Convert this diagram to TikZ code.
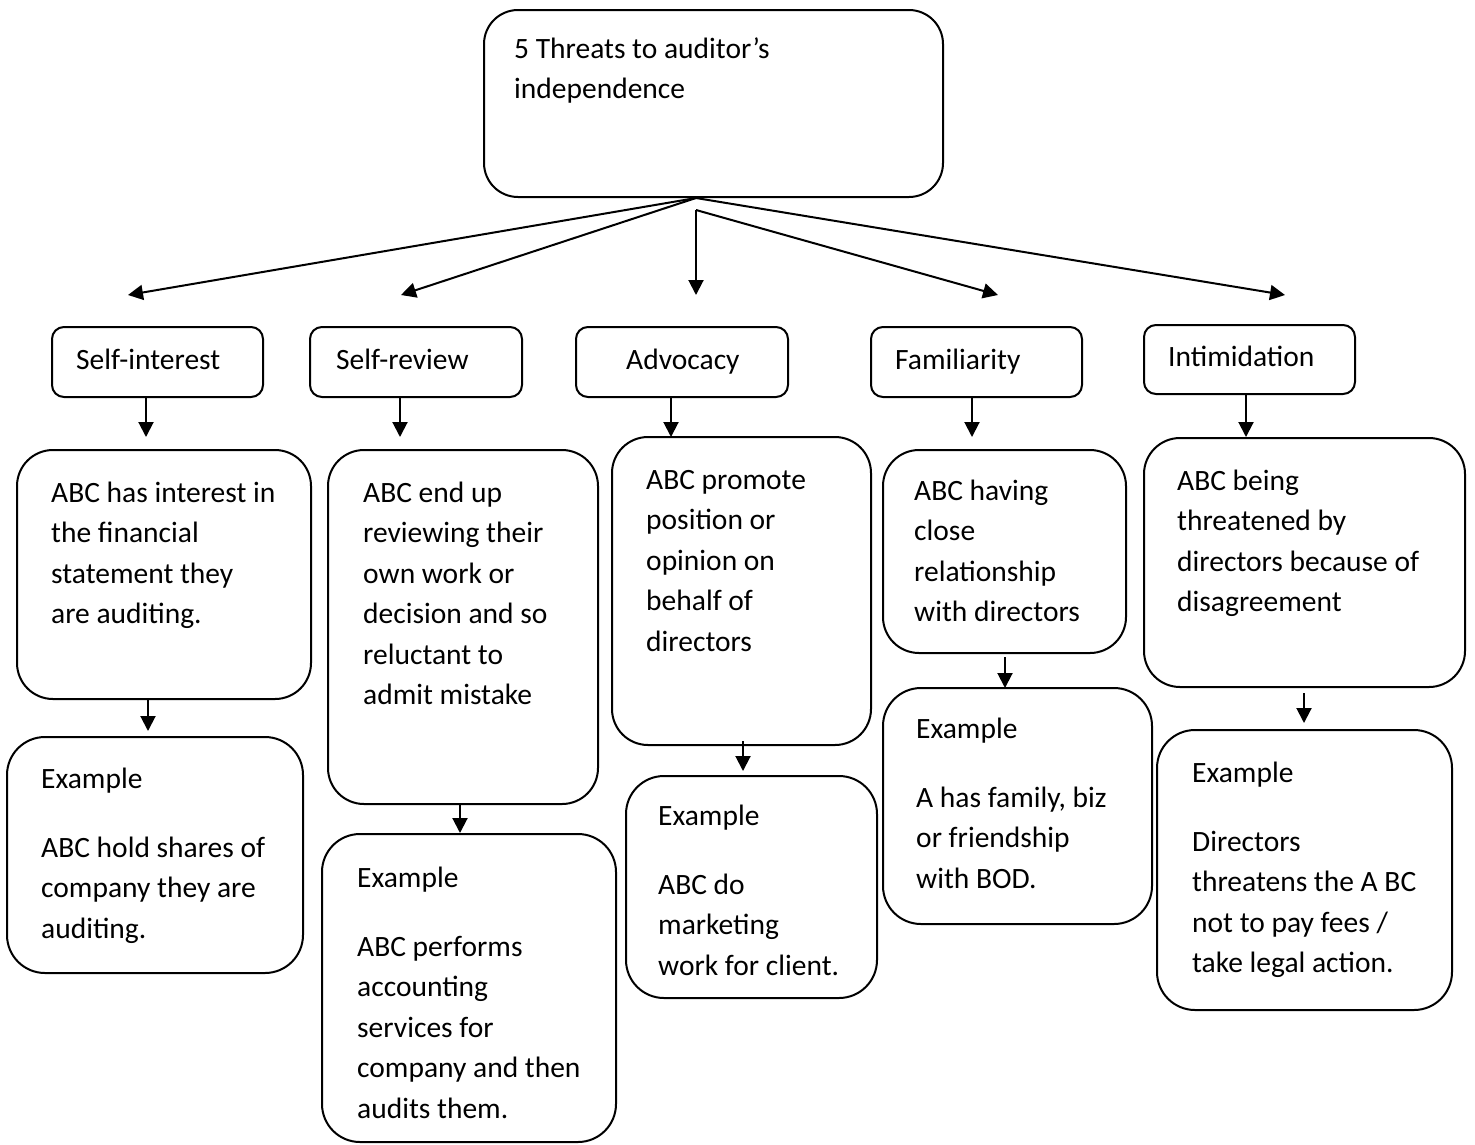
\documentclass[tikz,border=0pt]{standalone}
\usepackage{fontspec}
\setmainfont{Carlito}
\usetikzlibrary{arrows.meta,fit}
\begin{document}
\begin{tikzpicture}[x=1pt,y=-1pt,
  box/.style={draw, line width=2pt, inner sep=0pt, rounded corners=#1},
  box/.default=36pt,
  txt/.style={anchor=base west, inner sep=0pt, font=\fontsize{29.5}{40.5}\selectfont},
  arr/.style={line width=2pt, -{Triangle[width=15pt,length=15pt]}}]
\useasboundingbox (0,0) rectangle (1475,1144);
\newcommand\lns[1]{\parbox[t]{400pt}{#1}}
% root
\node[box=34pt, fit={(484,10) (943,197)}] (root) {};
\node[txt] (troot) at (514,58) {\lns{5 Threats to auditor’s\\independence}};
\coordinate (o1) at (696,198);
\coordinate (o2) at (696,210);
\coordinate (a1) at (128,295);
\coordinate (a2) at (401,295);
\coordinate (a3) at (696,295);
\coordinate (a4) at (998,295);
\coordinate (a5) at (1285,295);
\draw[arr] (o1) -- (a1);
\draw[arr] (o1) -- (a2);
\draw[arr] (o2) -- (a3);
\draw[arr] (o2) -- (a4);
\draw[arr] (o1) -- (a5);
% level 1
\node[box=12pt, fit={(52,327) (263,397)}] (si) {};
\node[box=12pt, fit={(310,327) (522,397)}] (sr) {};
\node[box=12pt, fit={(576,327) (788,397)}] (ad) {};
\node[box=12pt, fit={(871,327) (1082,397)}] (fa) {};
\node[box=12pt, fit={(1144,325) (1355,394)}] (in) {};
\node[txt] (tsi) at (76,369) {Self-interest};
\node[txt] (tsr) at (336,369) {Self-review};
\node[txt] (tad) at (626,369) {Advocacy};
\node[txt] (tfa) at (895,369) {Familiarity};
\node[txt] (tin) at (1168,366) {Intimidation};
\coordinate (c1) at (146,437);
\coordinate (c2) at (400,437);
\coordinate (c3) at (671,437);
\coordinate (c4) at (972,437);
\coordinate (c5) at (1246,437);
\draw[arr] (si.south -| c1) -- (c1);
\draw[arr] (sr.south -| c2) -- (c2);
\draw[arr] (ad.south -| c3) -- (c3);
\draw[arr] (fa.south -| c4) -- (c4);
\draw[arr] (in.south -| c5) -- (c5);
% level 2
\node[box, fit={(17,450) (311,699)}] (b1) {};
\node[box, fit={(328,450) (598,804)}] (b2) {};
\node[box, fit={(612,437) (871,745)}] (b3) {};
\node[box, fit={(883,450) (1126,653)}] (b4) {};
\node[box, fit={(1144,438) (1465,687)}] (b5) {};
\node[txt] (tb1) at (51,502) {\lns{ABC has interest in\\the financial\\statement they\\are auditing.}};
\node[txt] (tb2) at (363,502) {\lns{ABC end up\\reviewing their\\own work or\\decision and so\\reluctant to\\admit mistake}};
\node[txt] (tb3) at (646,489) {\lns{ABC promote\\position or\\opinion on\\behalf of\\directors}};
\node[txt] (tb4) at (914,500) {\lns{ABC having\\close\\relationship\\with directors}};
\node[txt] (tb5) at (1177,490) {\lns{ABC being\\threatened by\\directors because of\\disagreement}};
\coordinate (d1) at (148,731);
\coordinate (d2) at (460,833);
\coordinate (d3) at (743,771);
\coordinate (d4) at (1005,688);
\coordinate (d5) at (1304,723);
\draw[arr] (b1.south -| d1) -- (d1);
\draw[arr] (b2.south -| d2) -- (d2);
\draw[arr] ([yshift=5pt]b3.south -| d3) -- (d3);
\draw[arr] ([yshift=-3pt]b4.south -| d4) -- (d4);
\draw[arr] ([yshift=-5pt]b5.south -| d5) -- (d5);
% examples
\node[box=38pt, fit={(7,737) (303,973)}] (e1) {};
\node[box=38pt, fit={(322,834) (616,1142)}] (e2) {};
\node[box=38pt, fit={(626,776) (877,998)}] (e3) {};
\node[box=38pt, fit={(883,688) (1152,924)}] (e4) {};
\node[box=38pt, fit={(1157,730) (1452,1010)}] (e5) {};
\node[txt] (te1) at (41,788) {\lns{Example\\[28.5pt]ABC hold shares of\\company they are\\auditing.}};
\node[txt] (te2) at (357,887) {\lns{Example\\[28.5pt]ABC performs\\accounting\\services for\\company and then\\audits them.}};
\node[txt] (te3) at (658,825) {\lns{Example\\[28.5pt]ABC do\\marketing\\work for client.}};
\node[txt] (te4) at (916,738) {\lns{Example\\[28.5pt]A has family, biz\\or friendship\\with BOD.}};
\node[txt] (te5) at (1192,782) {\lns{Example\\[28.5pt]Directors\\threatens the A BC\\not to pay fees /\\take legal action.}};
\end{tikzpicture}
\end{document}
